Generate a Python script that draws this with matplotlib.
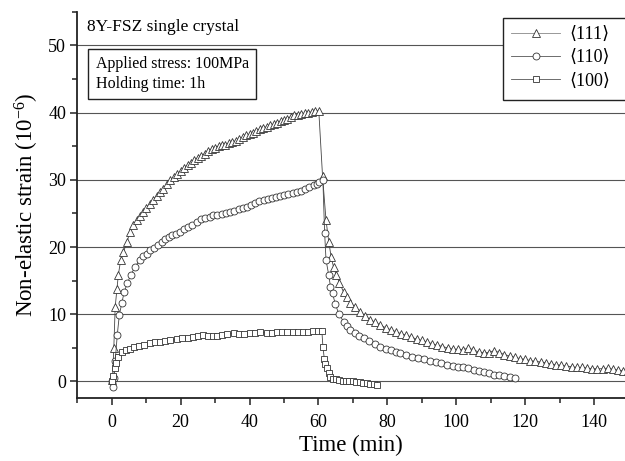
import matplotlib
matplotlib.use("Agg")
import matplotlib.pyplot as plt
from matplotlib.ticker import MultipleLocator
from matplotlib.patches import Rectangle

plt.rcParams['font.family'] = ['Liberation Serif', 'DejaVu Serif', 'DejaVu Sans']
plt.rcParams['mathtext.fontset'] = 'custom'
plt.rcParams['mathtext.rm'] = 'Liberation Serif'
plt.rcParams['mathtext.it'] = 'Liberation Serif:italic'

# <111> series (triangles)
t111 = [0.2, 0.6, 1.0, 1.5, 1.9, 2.6, 3.4, 4.4, 5.3, 6.3, 7.2, 8.1, 9.0, 10.0, 11.0, 12.0,
        13.0, 14.0, 15.0, 16.0, 17.0, 18.0, 19.0, 20.0, 21.0, 22.0, 23.0, 24.0, 25.0, 26.0,
        27.0, 28.0, 29.0, 30.0, 31.0, 32.0, 33.0, 34.0, 35.0, 36.0, 37.0, 38.0, 39.0, 40.0,
        41.0, 42.0, 43.0, 44.0, 45.0, 46.0, 47.0, 48.0, 49.0, 50.0, 51.0, 52.0, 53.0, 54.0,
        55.0, 56.0, 57.0, 58.0, 59.0, 60.1,
        61.2, 62.2, 63.0, 63.7, 64.4, 65.2, 66.1, 67.3, 68.3, 69.3, 70.5, 72.0, 73.5, 75.0,
        76.5, 78.0, 79.5, 81.0, 82.5, 84.0, 85.5, 87.0, 88.5, 90.0, 91.5, 93.0, 94.5, 96.0,
        97.5, 99.0, 100.5, 102.0, 103.5, 105.0, 106.5, 108.0, 109.5, 111.0, 112.5, 114.0,
        115.5, 117.0, 118.5, 120.0, 121.5, 123.0, 124.5, 126.0, 127.5, 129.0, 130.5, 132.0,
        133.5, 135.0, 136.5, 138.0, 139.5, 141.0, 142.5, 144.0, 145.5, 147.0, 148.5, 150.0]
s111 = [0.2, 5.0, 11.1, 13.8, 15.8, 18.1, 19.3, 20.7, 22.3, 23.3, 24.0, 24.6, 25.2, 25.8,
        26.4, 27.0, 27.6, 28.2, 28.7, 29.3, 29.9, 30.4, 30.9, 31.3, 31.8, 32.2, 32.5, 32.9,
        33.3, 33.6, 33.9, 34.3, 34.6, 34.8, 35.0, 35.1, 35.2, 35.4, 35.6, 35.8, 36.0, 36.3,
        36.6, 36.8, 37.0, 37.3, 37.5, 37.7, 37.9, 38.1, 38.3, 38.5, 38.7, 38.9, 39.1, 39.4,
        39.6, 39.7, 39.8, 39.9, 40.0, 40.1, 40.2, 40.3,
        30.5, 24.0, 20.8, 18.5, 17.0, 15.8, 14.7, 13.3, 12.5, 11.7, 11.1, 10.4, 9.8, 9.2,
        8.8, 8.4, 8.0, 7.7, 7.4, 7.1, 6.9, 6.6, 6.3, 6.1, 5.9, 5.6, 5.4, 5.2,
        5.0, 4.8, 4.8, 4.7, 5.0, 4.7, 4.4, 4.3, 4.3, 4.6, 4.3, 4.0,
        3.8, 3.6, 3.4, 3.3, 3.1, 3.0, 2.9, 2.8, 2.6, 2.5, 2.4, 2.3,
        2.2, 2.1, 2.1, 2.0, 1.9, 1.9, 1.9, 2.0, 1.8, 1.7, 1.6, 1.6]

# <110> series (circles)
t110 = [0.1, 0.3, 0.6, 1.0, 1.6, 2.2, 2.9, 3.6, 4.5, 5.5, 6.8, 8.2, 9.2, 10.2, 11.1, 12.2,
        13.3, 14.5, 15.5, 16.5, 17.5, 18.7, 19.9, 21.0, 22.0, 23.2, 24.7, 26.0, 27.2, 28.4,
        29.5, 30.7, 31.9, 33.1, 34.4, 35.6, 36.8, 38.0, 39.2, 40.4, 41.6, 42.8, 44.1, 45.3,
        46.5, 47.7, 48.9, 50.1, 51.3, 52.6, 53.8, 55.0, 56.2, 57.4, 58.6, 59.5, 60.3, 61.3,
        61.8, 62.2, 63.0, 63.5, 64.1, 64.9, 65.9, 67.3, 68.3, 69.3, 70.5, 71.8, 73.1, 74.7,
        76.3, 78.0, 79.5, 81.0, 82.5, 83.8, 85.5, 87.2, 89.0, 90.6, 92.3, 94.0, 95.7, 97.4,
        99.0, 100.5, 102.0, 103.5, 105.1, 106.5, 108.0, 109.5, 110.9, 112.5, 114.0, 115.5, 117.2]
s110 = [0.0, -0.8, 0.5, 3.0, 6.9, 9.9, 11.6, 13.3, 14.6, 15.8, 17.1, 18.1, 18.6, 19.0, 19.5,
        19.9, 20.3, 20.8, 21.2, 21.5, 21.8, 22.0, 22.3, 22.7, 23.0, 23.3, 23.7, 24.1, 24.3,
        24.5, 24.7, 24.7, 24.9, 25.1, 25.2, 25.4, 25.6, 25.8, 26.0, 26.3, 26.6, 26.8, 27.0,
        27.1, 27.3, 27.4, 27.6, 27.8, 27.9, 28.0, 28.2, 28.4, 28.6, 28.9, 29.2, 29.4, 29.7, 29.9,
        22.1, 18.1, 15.8, 14.1, 13.1, 11.5, 10.1, 8.9, 8.2, 7.7, 7.2, 6.8, 6.4, 6.0,
        5.6, 5.2, 4.9, 4.7, 4.4, 4.2, 3.9, 3.7, 3.5, 3.4, 3.1, 2.9, 2.7, 2.5,
        2.3, 2.2, 2.1, 2.0, 1.7, 1.6, 1.4, 1.2, 1.0, 0.9, 0.8, 0.6, 0.5]

# <100> series (squares)
t100 = [0.1, 0.5, 1.0, 1.2, 1.9, 2.9, 4.0, 5.3, 6.5, 8.0, 9.5, 11.1, 12.5, 14.0, 15.5, 17.0,
        18.9, 20.5, 22.0, 23.5, 25.0, 26.6, 28.0, 29.3, 30.5, 32.0, 33.5, 35.4, 37.0, 38.5,
        40.0, 41.5, 43.0, 45.0, 46.5, 48.0, 49.5, 51.0, 52.5, 54.0, 55.5, 57.0, 58.5, 60.0, 61.0,
        61.3, 61.7, 62.0, 62.5, 63.0, 63.5, 64.2, 65.0, 66.0, 67.0, 68.0, 69.0, 70.0, 71.0,
        72.0, 73.0, 74.0, 75.0, 76.0, 77.0]
s100 = [0.0, 0.8, 2.0, 2.7, 3.7, 4.4, 4.7, 4.9, 5.1, 5.3, 5.5, 5.7, 5.8, 5.9, 6.0, 6.1,
        6.3, 6.4, 6.5, 6.6, 6.7, 6.9, 6.8, 6.8, 6.8, 6.9, 7.0, 7.2, 7.1, 7.1,
        7.2, 7.2, 7.3, 7.25, 7.2, 7.3, 7.3, 7.3, 7.4, 7.4, 7.3, 7.4, 7.5, 7.5, 7.5,
        5.2, 3.4, 2.6, 2.0, 1.3, 0.7, 0.4, 0.3, 0.2, 0.1, 0.1, 0.0, 0.0, -0.1,
        -0.1, -0.2, -0.2, -0.3, -0.4, -0.5]

labels = ['⟨111⟩', '⟨110⟩', '⟨100⟩']

fig = plt.figure(figsize=(6.25, 4.61), dpi=100)
W, H = 625.0, 461.0
L, R, T, B = 77.3, 625.0, 11.7, 398.3
ax = fig.add_axes([L / W, 1 - B / H, (R - L) / W, (B - T) / H])

line_kw = dict(color='#444444', lw=0.6, mfc='white', mec='#333333', mew=0.6)
ax.plot(t111, s111, marker='^', ms=5.2, label=labels[0], zorder=3, **line_kw)
ax.plot(t110, s110, marker='o', ms=5.0, label=labels[1], zorder=3, **line_kw)
ax.plot(t100, s100, marker='s', ms=4.0, label=labels[2], zorder=3, **line_kw)

ax.set_xlim(-10, 149)
ax.set_ylim(-2.5, 55)
ax.xaxis.set_major_locator(MultipleLocator(20))
ax.xaxis.set_minor_locator(MultipleLocator(10))
ax.yaxis.set_major_locator(MultipleLocator(10))
ax.yaxis.set_minor_locator(MultipleLocator(5))
ax.grid(True, axis='y', which='major', color='#555555', lw=0.8, zorder=1)
ax.set_axisbelow(True)

for s in ['top', 'right']:
    ax.spines[s].set_visible(False)
for s in ['left', 'bottom']:
    ax.spines[s].set_linewidth(1.3)
    ax.spines[s].set_color('#222222')

ax.tick_params(axis='both', which='major', direction='out', length=5, width=1.1,
               labelsize=13, color='#222222', pad=3)
ax.tick_params(axis='both', which='minor', direction='out', length=3.5, width=1.1,
               color='#222222')
ax.tick_params(axis='x', which='major', pad=6)

ax.set_xlabel('Time (min)', fontsize=16.5, labelpad=3)
ax.set_ylabel(r'Non-elastic strain (10$^{-6}$)', fontsize=16.5, labelpad=5)

def axx(px):
    return (px - L) / (R - L)

def axy(py):
    return (B - py) / (B - T)

ax.text(axx(87), axy(27), '8Y-FSZ single crystal', transform=ax.transAxes,
        fontsize=12.5, va='center', ha='left', zorder=5)
ax.text(axx(95.5), axy(74), 'Applied stress: 100MPa\nHolding time: 1h',
        transform=ax.transAxes, fontsize=11.5, va='center', ha='left', linespacing=1.25,
        bbox=dict(boxstyle='square,pad=0.45', fc='white', ec='#222222', lw=1.0), zorder=5)

# legend frame (extends past the right edge of the figure)
frame = Rectangle((axx(503), axy(100)), axx(660) - axx(503), axy(18) - axy(100),
                  transform=ax.transAxes, fc='white', ec='#222222', lw=1.0,
                  clip_on=False, zorder=5)
ax.add_patch(frame)

leg = ax.legend(loc='upper left', bbox_to_anchor=(axx(503), axy(18)), borderaxespad=0,
                fontsize=13, frameon=False, handlelength=2.7, handletextpad=0.5,
                labelspacing=0.35, borderpad=0.45)
leg.set_zorder(6)
for hl, col in zip(leg.get_lines(), ['#888888', '#555555', '#555555']):
    hl.set_color(col)

fig.savefig('out.png', dpi=100)
